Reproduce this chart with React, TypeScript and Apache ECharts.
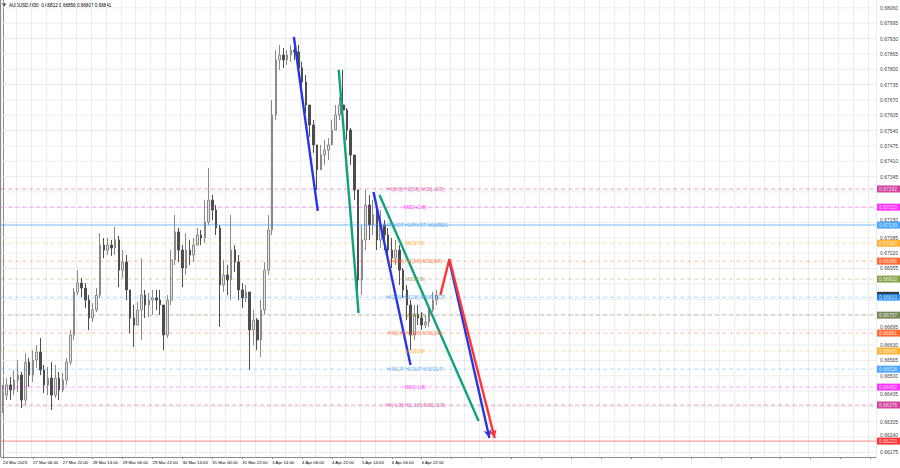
import React, { useEffect, useRef } from "react";
import * as echarts from "echarts";

// ---------- data ----------
const TITLE = "AUDUSD,M30  0.66812 0.66856 0.66807 0.66841";
const CURRENT_PRICE = 0.66841;

const TIME_LABELS = [
  "24 Mar 2023", "27 Mar 06:00", "27 Mar 22:00", "28 Mar 14:00", "29 Mar 06:00",
  "29 Mar 22:00", "30 Mar 14:00", "31 Mar 06:00", "31 Mar 22:00", "3 Apr 14:00",
  "4 Apr 06:00", "4 Apr 22:00", "5 Apr 14:00", "6 Apr 06:00", "6 Apr 22:00",
];

// price grid (every 0.00065) and the scale labels that are not hidden under a tag
const PRICE_TICKS = [
  0.6806, 0.67995, 0.6793, 0.67865, 0.678, 0.67735, 0.6767, 0.67605, 0.6754, 0.67475,
  0.6741, 0.67345, 0.6728, 0.67215, 0.6715, 0.67085, 0.6702, 0.66955, 0.6689, 0.66825,
  0.6676, 0.66695, 0.6663, 0.66565, 0.665, 0.66435, 0.6637, 0.66305, 0.6624, 0.66175,
];
const PRICE_LABELS = [
  0.6806, 0.67995, 0.6793, 0.67865, 0.678, 0.67735, 0.6767, 0.67605, 0.6754, 0.67475,
  0.6741, 0.67345, 0.6715, 0.67085, 0.6702, 0.66955, 0.66695, 0.6663, 0.66565, 0.665,
  0.66435, 0.66305, 0.6624, 0.66175,
];

const OPEN = [
  0.66397, 0.66418, 0.66461, 0.66440, 0.66482, 0.66503, 0.66397, 0.66558, 0.66503, 0.66567,
  0.66601, 0.66524, 0.66461, 0.66490, 0.66418, 0.66490, 0.66440, 0.66482, 0.66558, 0.66673,
  0.66855, 0.66893, 0.66872, 0.66821, 0.66745, 0.66779, 0.66842, 0.67054, 0.67033, 0.67054,
  0.67042, 0.67076, 0.66948, 0.66982, 0.66864, 0.66745, 0.66715, 0.66779, 0.66842, 0.66800,
  0.66821, 0.66830, 0.66821, 0.66800, 0.66673, 0.66821, 0.66991, 0.67110, 0.67033, 0.66957,
  0.67033, 0.67012, 0.67054, 0.67097, 0.67084, 0.67152, 0.67245, 0.67203, 0.67127, 0.66885,
  0.66927, 0.66906, 0.67033, 0.66982, 0.66864, 0.66830, 0.66855, 0.66694, 0.66736, 0.66652,
  0.66779, 0.66948, 0.67118, 0.67606, 0.67839, 0.67860, 0.67839, 0.67860, 0.67881, 0.67873,
  0.67805, 0.67746, 0.67648, 0.67563, 0.67479, 0.67373, 0.67436, 0.67457, 0.67479, 0.67542,
  0.67606, 0.67648, 0.67627, 0.67542, 0.67436, 0.67288, 0.66906, 0.67076, 0.67224, 0.67139,
  0.67182, 0.67076, 0.67139, 0.67097, 0.67033, 0.66999, 0.67033, 0.66948, 0.66864, 0.66800,
  0.66673, 0.66758, 0.66745, 0.66715, 0.66728, 0.66779, 0.66821,
];
const CLOSE = [
  0.66418, 0.66461, 0.66440, 0.66482, 0.66503, 0.66397, 0.66558, 0.66503, 0.66567, 0.66601,
  0.66524, 0.66461, 0.66490, 0.66418, 0.66490, 0.66440, 0.66482, 0.66558, 0.66673, 0.66855,
  0.66893, 0.66872, 0.66821, 0.66745, 0.66779, 0.66842, 0.67054, 0.67033, 0.67054, 0.67042,
  0.67076, 0.66948, 0.66982, 0.66864, 0.66745, 0.66715, 0.66779, 0.66842, 0.66800, 0.66821,
  0.66830, 0.66821, 0.66800, 0.66673, 0.66821, 0.66991, 0.67110, 0.67033, 0.66957, 0.67033,
  0.67012, 0.67054, 0.67097, 0.67084, 0.67152, 0.67245, 0.67203, 0.67127, 0.66885, 0.66927,
  0.66906, 0.67033, 0.66982, 0.66864, 0.66830, 0.66855, 0.66694, 0.66736, 0.66652, 0.66779,
  0.66948, 0.67118, 0.67606, 0.67839, 0.67860, 0.67839, 0.67860, 0.67881, 0.67873, 0.67805,
  0.67746, 0.67648, 0.67563, 0.67479, 0.67373, 0.67436, 0.67457, 0.67479, 0.67542, 0.67606,
  0.67648, 0.67627, 0.67542, 0.67436, 0.67288, 0.66906, 0.67076, 0.67224, 0.67139, 0.67182,
  0.67076, 0.67139, 0.67097, 0.67033, 0.66999, 0.67033, 0.66948, 0.66864, 0.66800, 0.66673,
  0.66758, 0.66745, 0.66715, 0.66728, 0.66779, 0.66821, 0.66841,
];
const HIGH = [
  0.66461, 0.66490, 0.66495, 0.66524, 0.66567, 0.66516, 0.66596, 0.66575, 0.66609, 0.66630,
  0.66660, 0.66546, 0.66537, 0.66558, 0.66546, 0.66516, 0.66512, 0.66575, 0.66694, 0.66872,
  0.66948, 0.66915, 0.66893, 0.66842, 0.66808, 0.66872, 0.67105, 0.67084, 0.67084, 0.67076,
  0.67131, 0.67093, 0.67033, 0.67012, 0.66864, 0.66800, 0.66813, 0.66999, 0.66864, 0.66851,
  0.66864, 0.66864, 0.66864, 0.66800, 0.66842, 0.67033, 0.67182, 0.67127, 0.67054, 0.67105,
  0.67076, 0.67084, 0.67127, 0.67118, 0.67245, 0.67381, 0.67267, 0.67224, 0.67139, 0.66991,
  0.66970, 0.67182, 0.67054, 0.67012, 0.66893, 0.66885, 0.66855, 0.66779, 0.66745, 0.66821,
  0.66982, 0.67182, 0.67669, 0.67881, 0.67903, 0.67890, 0.67881, 0.67903, 0.67924, 0.67903,
  0.67831, 0.67775, 0.67648, 0.67585, 0.67479, 0.67479, 0.67500, 0.67508, 0.67585, 0.67648,
  0.67682, 0.67797, 0.67635, 0.67551, 0.67436, 0.67288, 0.67139, 0.67288, 0.67267, 0.67245,
  0.67224, 0.67203, 0.67160, 0.67127, 0.67084, 0.67076, 0.67054, 0.66957, 0.66885, 0.66821,
  0.66800, 0.66800, 0.66770, 0.66758, 0.66800, 0.66855, 0.66864,
];
const LOW = [
  0.66342, 0.66397, 0.66397, 0.66418, 0.66431, 0.66363, 0.66376, 0.66452, 0.66473, 0.66533,
  0.66503, 0.66427, 0.66418, 0.66355, 0.66406, 0.66397, 0.66431, 0.66461, 0.66546, 0.66652,
  0.66842, 0.66834, 0.66787, 0.66694, 0.66728, 0.66770, 0.66830, 0.66999, 0.67012, 0.67008,
  0.67012, 0.66876, 0.66915, 0.66821, 0.66681, 0.66622, 0.66715, 0.66652, 0.66745, 0.66749,
  0.66758, 0.66779, 0.66758, 0.66609, 0.66660, 0.66800, 0.66970, 0.66982, 0.66876, 0.66927,
  0.66970, 0.66982, 0.67054, 0.67054, 0.67063, 0.67139, 0.67160, 0.67097, 0.66707, 0.66855,
  0.66842, 0.66821, 0.66940, 0.66821, 0.66787, 0.66813, 0.66524, 0.66630, 0.66609, 0.66580,
  0.66758, 0.66927, 0.67097, 0.67585, 0.67797, 0.67805, 0.67818, 0.67831, 0.67839, 0.67775,
  0.67712, 0.67614, 0.67513, 0.67445, 0.67288, 0.67373, 0.67394, 0.67415, 0.67479, 0.67542,
  0.67585, 0.67593, 0.67500, 0.67394, 0.67245, 0.66770, 0.66842, 0.67033, 0.67076, 0.67097,
  0.67033, 0.67042, 0.67033, 0.66982, 0.66957, 0.66970, 0.66885, 0.66830, 0.66736, 0.66609,
  0.66652, 0.66715, 0.66694, 0.66702, 0.66707, 0.66770, 0.66800,
];

// Murrey-math style levels and their captions
const LEVEL_PRICES = [
  0.67292, 0.67215, 0.67139, 0.67062, 0.66986, 0.6691, 0.66833,
  0.66757, 0.66681, 0.66605, 0.66528, 0.66452, 0.66376, 0.66223,
];
const LEVEL_TEXTS = [
  "H4[5/8] H1[5/8] M30[+2/8]", "M30[+1/8]", "H4PIVOT H1PIVOT M30RES", "M30[7/8]",
  "H4[3/8] H1[3/8] M30[6/8]", "M30[5/8]", "H4[2/8] H1[2/8] M30PIVOT", "M30[3/8]",
  "H4[1/8] H1[1/8] M30[2/8]", "M30[1/8]", "H4SUP H1SUP M30SUP", "M30[-1/8]",
  "H4[-1/8] H1[-1/8] M30[-2/8]", "",
];

// drawn trend lines: [bar index, price]
const BLUE_LINE_1 = [[77.8, 0.67937], [84.2, 0.67199]];
const GREEN_LINE_1 = [[89.8, 0.67797], [95.1, 0.66766]];
const BLUE_LINE_2 = [[99.1, 0.67279], [109.0, 0.66546]];
const GREEN_LINE_2 = [[100.7, 0.67267], [127.2, 0.66308]];
const RED_PATH = [[117.0, 0.66843], [119.4, 0.66995], [131.5, 0.66236]];
const BLUE_LINE_3 = [[119.4, 0.66987], [130.1, 0.66236]];

// ---------- styles / layout ----------
const FONT = "'Liberation Sans', Arial, sans-serif";
const TOTAL_SLOTS = 234;
const LABEL_EVERY = 8;
const Y_MIN = 0.661555;
const Y_MAX = 0.680935;
const LEVEL_LABEL_X = 110.2;

// scale labels squeezed beside a tag: which side they sit on
const LABEL_ABOVE = [0.6715, 0.66695, 0.6624];
const LABEL_BELOW = [0.66435];

const LEVEL_COLORS = [
  "#c71585", "#ff00ff", "#1e90ff", "#ffa000", "#ff4500", "#6b8e23", "#1e90ff",
  "#556b2f", "#ff4500", "#ffa000", "#1e90ff", "#ff00ff", "#c71585", "#ff0000",
];
const LEVEL_TEXT_COLORS = [
  "#d9409f", "#ff00ff", "#3a97f5", "#ff9a00", "#ff5a20", "#8a943a", "#3a97f5",
  "#6f7d33", "#ff5a20", "#ff9a00", "#3a97f5", "#ff00ff", "#d9409f", "#ff0000",
];
const LEVEL_LINE_TYPES: any[] = [
  [4, 3], [4, 3], "solid", [4, 3], [4, 3], [4, 3], [4, 3],
  [4, 3], [4, 3], [4, 3], [4, 3], [4, 3], [4, 3], "solid",
];
const LEVEL_LINE_WIDTHS = [1, 1, 2, 1, 1, 1, 1, 1, 1, 1, 1, 1, 1, 1];
const LEVEL_LINE_OPACITY = [0.4, 0.35, 0.3, 0.3, 0.35, 0.35, 0.35, 0.35, 0.35, 0.3, 0.35, 0.35, 0.4, 0.45];

const X_LEFT = -0.5;
const X_RIGHT = TOTAL_SLOTS - 0.5;

function seg(a: number[], b: number[], color: string, arrow: boolean) {
  return [
    { coord: a, symbol: "none", lineStyle: { color, width: 2.4, type: "solid" } },
    {
      coord: b,
      symbol: arrow ? "arrow" : "none",
      symbolSize: [6, 8],
      lineStyle: { color, width: 2.4, type: "solid" },
    },
  ];
}

function hLine(v: number, color: string, type: any, width: number, opacity: number, z: number) {
  return {
    type: "line",
    xAxisIndex: 1,
    data: [[X_LEFT, v], [X_RIGHT, v]],
    symbol: "none",
    silent: true,
    z,
    lineStyle: { color, type, width, opacity },
  };
}

export default function App() {
  const ref = useRef<HTMLDivElement>(null);

  useEffect(() => {
    const el = ref.current;
    if (!el) return;
    const chart = echarts.init(el, null, { renderer: "svg" });

    const categories = Array.from({ length: TOTAL_SLOTS }, (_, i) => String(i));
    const candles = OPEN.map((o, i) => [o, CLOSE[i], LOW[i], HIGH[i]]);

    const series: any[] = [];

    // horizontal price grid
    PRICE_TICKS.forEach((v) => series.push(hLine(v, "#ececec", "solid", 1, 1, 1)));

    // price scale labels
    series.push({
      type: "scatter",
      xAxisIndex: 1,
      silent: true,
      clip: false,
      z: 2,
      symbolSize: 0.01,
      itemStyle: { color: "transparent" },
      data: PRICE_LABELS.map((v) => ({
        value: [X_RIGHT, v],
        label: {
          show: true,
          position: "right",
          distance: 4,
          formatter: v.toFixed(5),
          color: "#000000",
          fontSize: 5,
          fontFamily: FONT,
          verticalAlign: LABEL_ABOVE.includes(v) ? "bottom" : LABEL_BELOW.includes(v) ? "top" : "middle",
        },
      })),
    });

    // candles
    series.push({
      name: "AUDUSD",
      type: "candlestick",
      xAxisIndex: 0,
      data: candles,
      barWidth: "55%",
      z: 3,
      itemStyle: {
        color: "#e6e6e6",
        color0: "#4d4d4d",
        borderColor: "#8a8a8a",
        borderColor0: "#4d4d4d",
        borderWidth: 1,
      },
    });

    // level lines
    LEVEL_PRICES.forEach((v, i) =>
      series.push(
        hLine(v, LEVEL_COLORS[i], LEVEL_LINE_TYPES[i], LEVEL_LINE_WIDTHS[i], LEVEL_LINE_OPACITY[i], 4)
      )
    );

    // trend lines
    series.push({
      type: "line",
      xAxisIndex: 1,
      data: [],
      silent: true,
      z: 5,
      markLine: {
        silent: true,
        animation: false,
        label: { show: false },
        lineStyle: { type: "solid" },
        data: [
          seg(BLUE_LINE_1[0], BLUE_LINE_1[1], "#2436e8", false),
          seg(GREEN_LINE_1[0], GREEN_LINE_1[1], "#10a27c", false),
          seg(BLUE_LINE_2[0], BLUE_LINE_2[1], "#2436e8", false),
          seg(GREEN_LINE_2[0], GREEN_LINE_2[1], "#10a27c", false),
          seg(BLUE_LINE_3[0], BLUE_LINE_3[1], "#2436e8", true),
          seg(RED_PATH[0], RED_PATH[1], "#ff3434", false),
          seg(RED_PATH[1], RED_PATH[2], "#ff3434", true),
        ],
      },
    });

    // level captions
    series.push({
      type: "scatter",
      xAxisIndex: 1,
      silent: true,
      z: 6,
      symbolSize: 0.01,
      itemStyle: { color: "transparent" },
      data: LEVEL_PRICES.map((v, i) => ({
        value: [LEVEL_LABEL_X, v],
        label: {
          show: LEVEL_TEXTS[i] !== "",
          position: "inside",
          formatter: LEVEL_TEXTS[i],
          color: LEVEL_TEXT_COLORS[i],
          fontSize: 5,
          fontFamily: FONT,
        },
      })),
    });

    // current price tag (almost fully covered by the pivot tag, as in the reference)
    series.push({
      type: "scatter",
      xAxisIndex: 1,
      silent: true,
      clip: false,
      z: 7,
      symbol: "rect",
      symbolSize: [22, 7],
      symbolOffset: [12, 0],
      itemStyle: { color: "#000000" },
      data: [[X_RIGHT, CURRENT_PRICE]],
    });

    // level price tags on the scale
    series.push({
      type: "scatter",
      xAxisIndex: 1,
      silent: true,
      clip: false,
      z: 8,
      symbolSize: 0.01,
      itemStyle: { color: "transparent" },
      data: LEVEL_PRICES.map((v, i) => ({
        value: [X_RIGHT, v],
        label: {
          show: true,
          position: "right",
          distance: 1,
          formatter: v.toFixed(5),
          backgroundColor: LEVEL_COLORS[i],
          color: "#ffffff",
          fontSize: 5,
          lineHeight: 5,
          fontFamily: FONT,
          padding: [1.2, 3, 0.8, 2],
        },
      })),
    });

    const option: any = {
      animation: false,
      backgroundColor: "#ffffff",
      textStyle: { fontFamily: FONT },
      grid: { left: 0, right: 24, top: 0, bottom: 11 },
      xAxis: [
        {
          type: "category",
          data: categories,
          boundaryGap: true,
          axisLine: { show: true, lineStyle: { color: "#8c8c8c", width: 1 } },
          axisTick: {
            show: true,
            interval: LABEL_EVERY - 1,
            alignWithLabel: true,
            length: 2,
            lineStyle: { color: "#8c8c8c" },
          },
          axisLabel: {
            interval: LABEL_EVERY - 1,
            align: "left",
            fontSize: 4.3,
            color: "#000000",
            margin: 3,
            fontFamily: FONT,
            formatter: (_v: string, idx: number) =>
              idx % LABEL_EVERY === 0 && TIME_LABELS[idx / LABEL_EVERY]
                ? TIME_LABELS[idx / LABEL_EVERY]
                : "",
          },
          splitLine: { show: true, interval: 3, lineStyle: { color: "#ececec", width: 1 } },
        },
        { type: "value", min: X_LEFT, max: X_RIGHT, show: false },
      ],
      yAxis: {
        type: "value",
        position: "right",
        min: Y_MIN,
        max: Y_MAX,
        axisLine: { show: true, lineStyle: { color: "#8c8c8c", width: 1 } },
        axisTick: { show: false },
        axisLabel: { show: false },
        splitLine: { show: false },
      },
      graphic: [
        {
          type: "line",
          shape: { x1: 0.5, y1: 0, x2: 0.5, y2: 457 },
          style: { stroke: "#8c8c8c", lineWidth: 1 },
        },
        {
          type: "polygon",
          shape: { points: [[2, 3.5], [6, 3.5], [4, 6.5]] },
          style: { fill: "#000000" },
        },
        {
          type: "text",
          left: 9,
          top: 2.5,
          style: { text: TITLE, fontSize: 4.6, fill: "#000000", fontFamily: FONT },
        },
      ],
      series,
    };

    chart.setOption(option);
    return () => chart.dispose();
  }, []);

  return (
    <div
      ref={ref}
      style={{ position: "fixed", left: 0, top: 0, width: 900, height: 468, background: "#ffffff" }}
    />
  );
}
